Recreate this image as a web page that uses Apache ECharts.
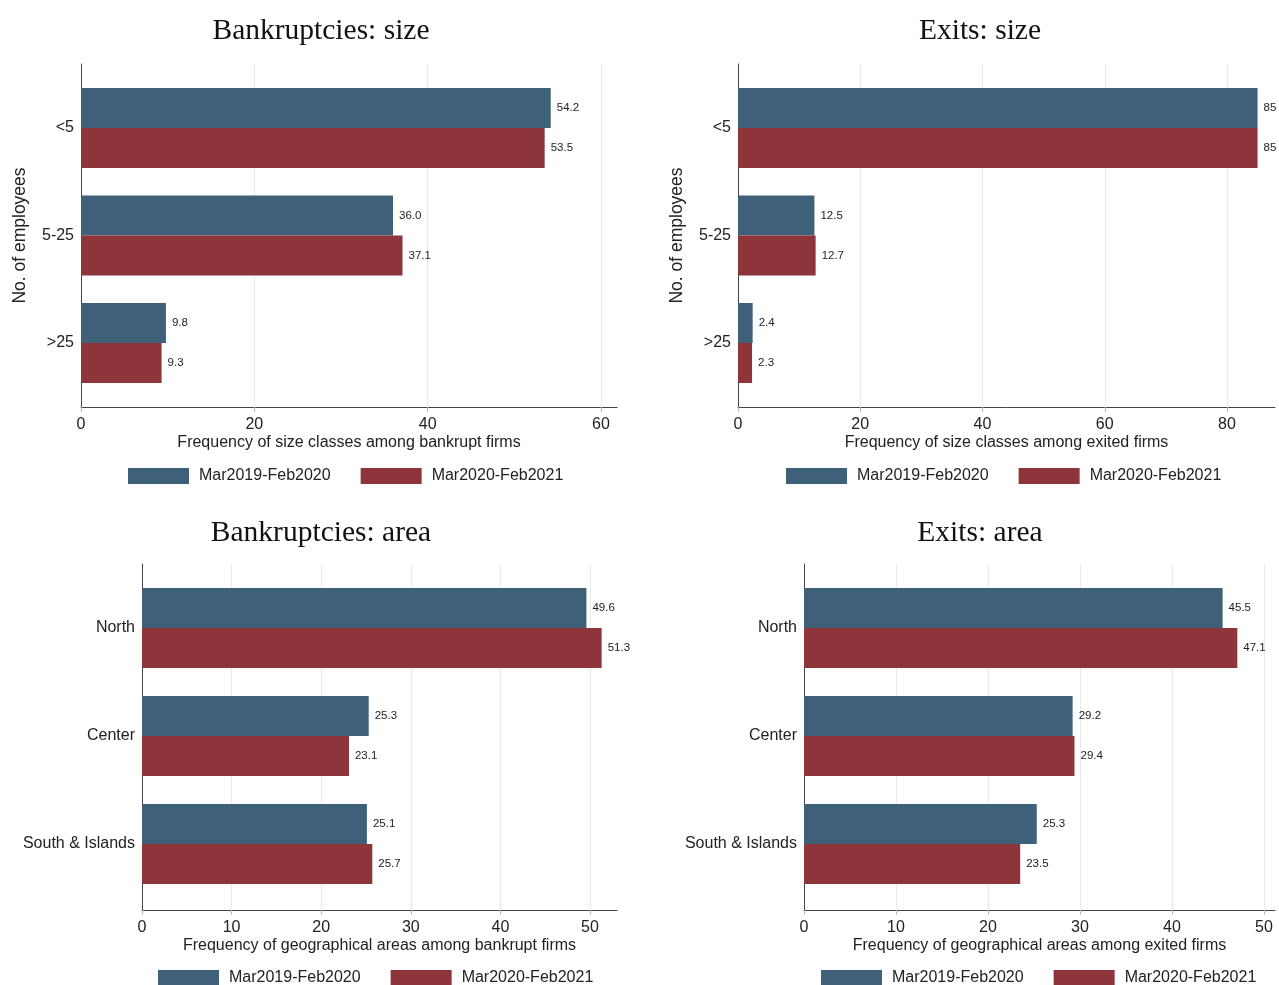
<!DOCTYPE html>
<html>
<head>
<meta charset="utf-8">
<script src="https://cdn.jsdelivr.net/npm/echarts@6/dist/echarts.min.js"></script>
<style>
  html, body { margin: 0; padding: 0; background: #fff; }
  #chart { width: 1279px; height: 985px; }
</style>
</head>
<body>
<div id="chart"></div>
<script>
// Period labels (legend / series names)
const seriesNames = ['Mar2019-Feb2020', 'Mar2020-Feb2021'];

// Categories
const sizeClasses = ['<5', '5-25', '>25'];
const areas = ['North', 'Center', 'South & Islands'];

// Shares (%) as printed on the bars
const bankSizePre  = ['54.2', '36.0', '9.8'];
const bankSizePost = ['53.5', '37.1', '9.3'];
const exitSizePre  = ['85', '12.5', '2.4'];
const exitSizePost = ['85', '12.7', '2.3'];
const bankAreaPre  = ['49.6', '25.3', '25.1'];
const bankAreaPost = ['51.3', '23.1', '25.7'];
const exitAreaPre  = ['45.5', '29.2', '25.3'];
const exitAreaPost = ['47.1', '29.4', '23.5'];

const COLORS = ['#3e6079', '#8e353c'];
const SANS = 'Liberation Sans, Arial, sans-serif';
const SERIF = 'Liberation Serif, Times New Roman, serif';

// Panel layout: pixel frame of each small-multiple plus its axis settings
const panels = [
  { title: 'Bankruptcies: size', cats: sizeClasses, pre: bankSizePre, post: bankSizePost,
    xName: 'Frequency of size classes among bankrupt firms', yName: 'No. of employees',
    left: 81, right: 617, top: 64, bottom: 407, barTop: 74.25, barBottom: 396.75,
    step: 20, tickMax: 60, tickPx: 601, titleX: 321, titleY: 16, legendX: 128, legendY: 468 },
  { title: 'Exits: size', cats: sizeClasses, pre: exitSizePre, post: exitSizePost,
    xName: 'Frequency of size classes among exited firms', yName: 'No. of employees',
    left: 738, right: 1275, top: 64, bottom: 407, barTop: 74.25, barBottom: 396.75,
    step: 20, tickMax: 80, tickPx: 1227, titleX: 980, titleY: 16, legendX: 786, legendY: 468 },
  { title: 'Bankruptcies: area', cats: areas, pre: bankAreaPre, post: bankAreaPost,
    xName: 'Frequency of geographical areas among bankrupt firms', yName: '',
    left: 142, right: 617, top: 564, bottom: 910, barTop: 574, barBottom: 898,
    step: 10, tickMax: 50, tickPx: 590, titleX: 321, titleY: 518, legendX: 158, legendY: 970 },
  { title: 'Exits: area', cats: areas, pre: exitAreaPre, post: exitAreaPost,
    xName: 'Frequency of geographical areas among exited firms', yName: '',
    left: 804, right: 1275, top: 564, bottom: 910, barTop: 574, barBottom: 898,
    step: 10, tickMax: 50, tickPx: 1264, titleX: 980, titleY: 518, legendX: 821, legendY: 970 }
];

const option = {
  animation: false,
  backgroundColor: '#fff',
  title: [], legend: [], grid: [], xAxis: [], yAxis: [], series: []
};

panels.forEach((p) => {
  const scale = (p.tickPx - p.left) / p.tickMax;
  const axisMax = (p.right - p.left) / scale;
  const g = option.grid.length;

  option.title.push({
    text: p.title, left: p.titleX, top: p.titleY, textAlign: 'center', padding: 0,
    textStyle: { fontFamily: SERIF, fontSize: 29.5, fontWeight: 'normal', color: '#111' }
  });

  option.legend.push({
    data: seriesNames, left: p.legendX, top: p.legendY, icon: 'rect', padding: 0,
    itemWidth: 61, itemHeight: 16, itemGap: 30, selectedMode: false,
    textStyle: { fontFamily: SANS, fontSize: 16, color: '#222', padding: [0, 0, 0, 5] }
  });

  // grid g: axis lines framing the plot
  option.grid.push({ left: p.left, top: p.top, width: p.right - p.left, height: p.bottom - p.top });
  option.xAxis.push({
    gridIndex: g, type: 'value', min: 0, max: axisMax,
    name: p.xName, nameLocation: 'middle', nameGap: 28,
    nameTextStyle: { fontFamily: SANS, fontSize: 16, color: '#222' },
    axisLine: { show: true, lineStyle: { color: '#444', width: 1 } },
    axisTick: { show: false }, axisLabel: { show: false }, splitLine: { show: false }
  });
  option.yAxis.push({
    gridIndex: g, type: 'value', min: 0, max: 1,
    axisLine: { show: true, lineStyle: { color: '#444', width: 1 } },
    axisTick: { show: false }, axisLabel: { show: false }, splitLine: { show: false }
  });

  // grid g+1: tick labels and vertical grid lines
  option.grid.push({ left: p.left, top: p.top, width: p.tickPx - p.left, height: p.bottom - p.top });
  option.xAxis.push({
    gridIndex: g + 1, type: 'value', min: 0, max: p.tickMax, interval: p.step,
    axisLine: { show: false },
    axisTick: { show: true, length: 5, lineStyle: { color: '#bbb' } },
    axisLabel: { fontFamily: SANS, fontSize: 16, color: '#222', margin: 10 },
    splitLine: { show: true, lineStyle: { color: '#e8e8e8', width: 1 } }
  });
  option.yAxis.push({ gridIndex: g + 1, type: 'value', show: false });

  // grid g+2: the bars with their category axis
  option.grid.push({ left: p.left, top: p.barTop, width: p.right - p.left, height: p.barBottom - p.barTop });
  option.xAxis.push({ gridIndex: g + 2, type: 'value', min: 0, max: axisMax, show: false });
  option.yAxis.push({
    gridIndex: g + 2, type: 'category', data: p.cats, inverse: true,
    axisLine: { show: false }, axisTick: { show: false },
    axisLabel: { fontFamily: SANS, fontSize: 16, color: '#222', margin: 7, padding: [4, 0, 0, 0] },
    name: p.yName, nameLocation: 'middle', nameGap: 52,
    nameTextStyle: { fontFamily: SANS, fontSize: 17.5, color: '#222' }
  });

  [p.pre, p.post].forEach((vals, k) => {
    option.series.push({
      type: 'bar', name: seriesNames[k], xAxisIndex: g + 2, yAxisIndex: g + 2,
      data: vals.map(Number), barWidth: 40, barGap: '0%',
      itemStyle: { color: COLORS[k] },
      label: {
        show: true, position: 'right', distance: 6,
        fontFamily: SANS, fontSize: 11.5, color: '#222',
        formatter: (d) => vals[d.dataIndex]
      }
    });
  });
});

const chart = echarts.init(document.getElementById('chart'), null, { renderer: 'canvas' });
chart.setOption(option);
</script>
</body>
</html>
